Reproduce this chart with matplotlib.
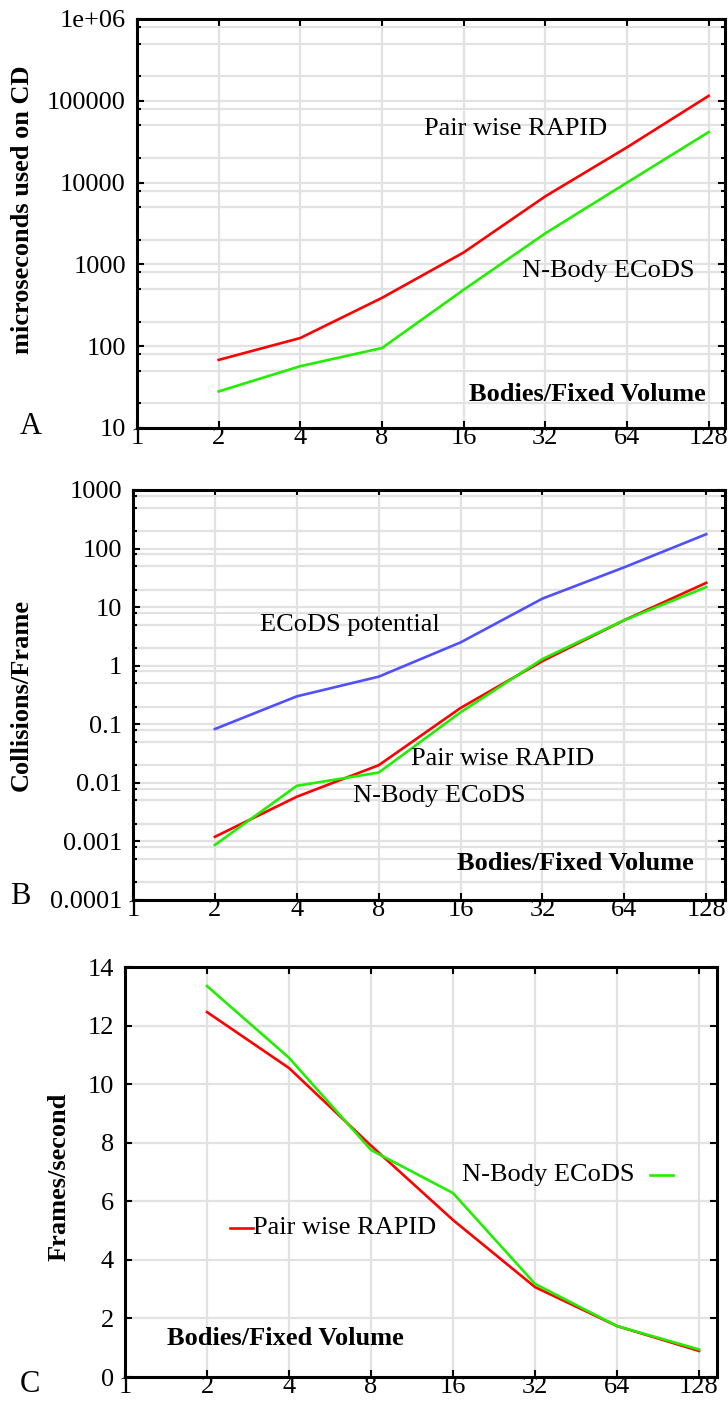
"""Three stacked panels: CD time, collisions per frame, frame rate."""

import numpy as np
import matplotlib
matplotlib.use('Agg')
import matplotlib.pyplot as plt

plt.rcParams['font.family'] = ['Liberation Serif', 'DejaVu Serif']

# --- data

bodies = [2, 4, 8, 16, 32, 64, 128]
x_ticks = [1, 2, 4, 8, 16, 32, 64, 128]

# A: microseconds used on collision detection
cd_rapid = [68, 126, 390, 1400, 6800, 27000, 115000]
cd_ecods = [28, 57, 95, 490, 2400, 10000, 41500]

# B: collisions / frame
col_potential = [0.083, 0.30, 0.65, 2.5, 14, 48, 176]
col_rapid = [0.0012, 0.0058, 0.020, 0.19, 1.2, 6.0, 26]
col_ecods = [0.00087, 0.0089, 0.015, 0.16, 1.3, 6.0, 22]

# C: frames / second
fps_rapid = [12.46, 10.55, 7.9, 5.36, 3.07, 1.74, 0.89]
fps_ecods = [13.35, 10.9, 7.75, 6.28, 3.18, 1.74, 0.94]

a_yticks = [10, 100, 1000, 10000, 100000, 1000000]
a_ylabels = ['10', '100', '1000', '10000', '100000', '1e+06']
b_yticks = [1e-4, 1e-3, 1e-2, 1e-1, 1, 10, 100, 1000]
b_ylabels = ['0.0001', '0.001', '0.01', '0.1', '1', '10', '100', '1000']
c_yticks = [0, 2, 4, 6, 8, 10, 12, 14]

RED = '#ff0000'
GREEN = '#22ee00'
BLUE = '#5050ff'
GRID = '#e2e2e2'
FS = 19

fig = plt.figure(figsize=(7.28, 14.01), dpi=100)
axA = fig.add_axes([137/728, 1-428/1401, 588/728, 409/1401])
axB = fig.add_axes([133/728, 1-900/1401, 592/728, 410/1401])
axC = fig.add_axes([125/728, 1-1377/1401, 592/728, 410/1401])


def style(ax, xmax):
    ax.set_xscale('log', base=2)
    ax.set_xlim(1, xmax)
    ax.set_xticks(x_ticks)
    ax.set_xticklabels([str(v) for v in x_ticks])
    ax.xaxis.set_minor_locator(matplotlib.ticker.NullLocator())
    ax.tick_params(which='both', direction='in', top=True, right=True,
                   labelsize=FS, width=1.5)
    ax.tick_params(which='major', length=5)
    ax.tick_params(which='minor', length=3)
    ax.tick_params(axis='x', pad=-1)
    ax.tick_params(axis='y', pad=8)
    ax.grid(True, which='both', color=GRID, lw=1.6, zorder=0)
    ax.set_axisbelow(True)
    for s in ax.spines.values():
        s.set_linewidth(2.2)


def log_y(ax, ticks, labels):
    ax.set_yscale('log')
    ax.set_ylim(ticks[0], ticks[-1])
    ax.set_yticks(ticks)
    ax.set_yticklabels(labels)
    minors = [m * t for t in ticks[:-1] for m in (2, 5, 8)]
    ax.set_yticks(minors, minor=True)
    ax.yaxis.set_minor_formatter(matplotlib.ticker.NullFormatter())


# --- panel A
style(axA, 147)
log_y(axA, a_yticks, a_ylabels)
axA.plot(bodies, cd_rapid, color=RED, lw=1.9)
axA.plot(bodies, cd_ecods, color=GREEN, lw=1.9)
axA.set_ylabel('microseconds used on CD', fontsize=FS, fontweight='bold')
axA.yaxis.set_label_coords(-0.175, 0.533)
axA.text(0.488, 0.731, 'Pair wise RAPID', transform=axA.transAxes,
         fontsize=FS, va='center', ha='left')
axA.text(0.655, 0.384, 'N-Body ECoDS', transform=axA.transAxes,
         fontsize=FS, va='center', ha='left')
axA.text(0.968, 0.081, 'Bodies/Fixed Volume', transform=axA.transAxes,
         fontsize=FS, fontweight='bold', va='center', ha='right')
fig.text(20/728, 1-427/1401, 'A', fontsize=22, va='center', ha='left')

# --- panel B
style(axB, 150)
log_y(axB, b_yticks, b_ylabels)
axB.plot(bodies, col_potential, color=BLUE, lw=1.9)
axB.plot(bodies, col_rapid, color=RED, lw=1.9)
axB.plot(bodies, col_ecods, color=GREEN, lw=1.9)
axB.set_ylabel('Collisions/Frame', fontsize=FS, fontweight='bold')
axB.yaxis.set_label_coords(-0.17, 0.5)
axB.text(0.2145, 0.671, 'ECoDS potential', transform=axB.transAxes,
         fontsize=FS, va='center', ha='left')
axB.text(0.47, 0.344, 'Pair wise RAPID', transform=axB.transAxes,
         fontsize=FS, va='center', ha='left')
axB.text(0.372, 0.254, 'N-Body ECoDS', transform=axB.transAxes,
         fontsize=FS, va='center', ha='left')
axB.text(0.948, 0.09, 'Bodies/Fixed Volume', transform=axB.transAxes,
         fontsize=FS, fontweight='bold', va='center', ha='right')
fig.text(10/728, 1-897/1401, 'B', fontsize=22, va='center', ha='left')

# --- panel C
style(axC, 149)
axC.set_ylim(0, 14)
axC.set_yticks(c_yticks)
axC.plot(bodies, fps_rapid, color=RED, lw=1.9)
axC.plot(bodies, fps_ecods, color=GREEN, lw=1.9)
axC.set_ylabel('Frames/second', fontsize=FS, fontweight='bold')
axC.yaxis.set_label_coords(-0.092, 0.488)
# hand-placed keys
axC.plot([0.887, 0.926], [0.493, 0.493], color=GREEN, lw=1.9,
         transform=axC.transAxes)
axC.text(0.569, 0.493, 'N-Body ECoDS', transform=axC.transAxes,
         fontsize=FS, va='center', ha='left')
axC.plot([0.177, 0.216], [0.363, 0.363], color=RED, lw=1.9,
         transform=axC.transAxes)
axC.text(0.216, 0.363, 'Pair wise RAPID', transform=axC.transAxes,
         fontsize=FS, va='center', ha='left')
axC.text(0.071, 0.095, 'Bodies/Fixed Volume', transform=axC.transAxes,
         fontsize=FS, fontweight='bold', va='center', ha='left')
fig.text(20/728, 1-1385/1401, 'C', fontsize=22, va='center', ha='left')

fig.savefig('out.png', dpi=100)
